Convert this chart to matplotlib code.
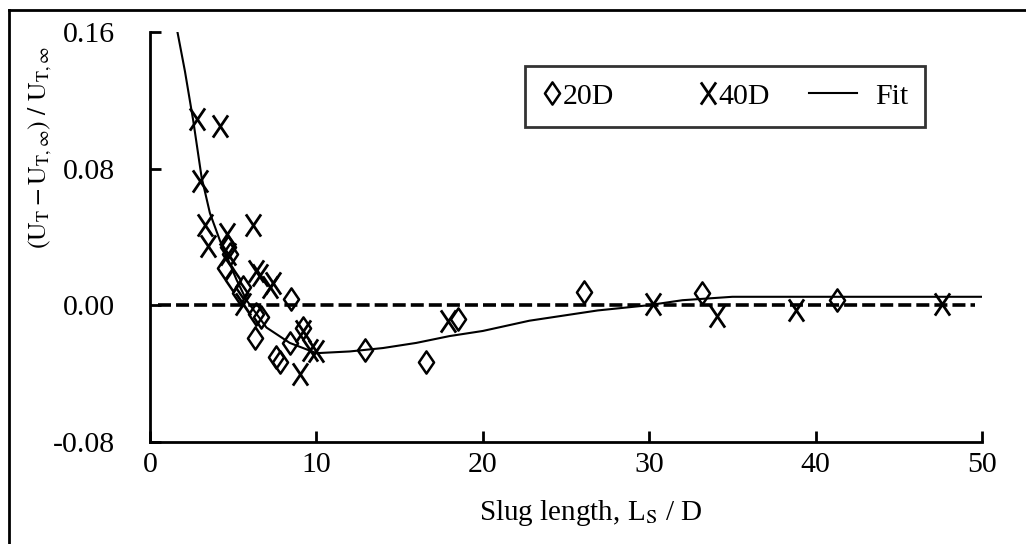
import matplotlib
matplotlib.use('Agg')
import matplotlib.pyplot as plt
from matplotlib.path import Path
from matplotlib.lines import Line2D
from matplotlib.legend_handler import HandlerLine2D

# ---- data ----
d20_x = [4.5, 4.7, 4.8, 5.0, 5.4, 5.6, 6.3, 6.4, 6.7, 7.6, 7.8, 8.4, 8.5, 9.2,
         12.9, 16.6, 18.5, 26.1, 33.2, 41.3]
d20_y = [0.022, 0.034, 0.030, 0.015, 0.007, 0.011, -0.019, -0.005, -0.007, -0.030,
         -0.033, -0.022, 0.004, -0.013, -0.026, -0.033, -0.008, 0.008, 0.007, 0.003]

d40_x = [2.8, 4.2, 3.0, 3.3, 3.5, 4.6, 4.7, 6.2, 6.4, 6.6, 7.2, 7.4, 5.6, 9.2, 9.6,
         9.0, 10.0, 17.9, 30.2, 34.1, 38.8, 47.6]
d40_y = [0.109, 0.105, 0.073, 0.047, 0.035, 0.042, 0.030, 0.047, 0.020, 0.018, 0.011,
         0.013, 0.001, -0.015, -0.026, -0.040, -0.027, -0.009, 0.001, -0.006, -0.003, 0.001]

fit_x = [1.65, 2.1, 2.6, 3.1, 3.6, 4.2, 5.2, 5.8, 7.0, 8.4, 10.0, 12.0, 14.0, 16.0,
         18.0, 20.0, 22.8, 26.9, 29.9, 32.0, 35.0, 40.0, 50.0]
fit_y = [0.160, 0.137, 0.108, 0.075, 0.054, 0.038, 0.015, 0.003, -0.013, -0.022,
         -0.028, -0.027, -0.025, -0.022, -0.018, -0.015, -0.009, -0.003, 0.000, 0.003,
         0.005, 0.005, 0.005]

ref_x = [0.5, 49.6]
ref_y = [0.0, 0.0]

x_ticks = [0, 10, 20, 30, 40, 50]
y_ticks = [-0.08, 0.00, 0.08, 0.16]
y_ticklabels = ['-0.08', '0.00', '0.08', '0.16']

plt.rcParams['font.family'] = ['Liberation Serif', 'DejaVu Serif']
plt.rcParams['mathtext.fontset'] = 'stix'

# markers shaped like the scanned ones
x_marker = Path([(-0.68, -1), (0.68, 1), (-0.68, 1), (0.68, -1)],
                [Path.MOVETO, Path.LINETO, Path.MOVETO, Path.LINETO])
dia_marker = Path([(0, 1), (0.68, 0), (0, -1), (-0.68, 0), (0, 1)],
                  [Path.MOVETO, Path.LINETO, Path.LINETO, Path.LINETO, Path.CLOSEPOLY])


class MarkerRight(HandlerLine2D):
    # marker sits at the right end of the short handle, close to the text
    def get_xdata(self, legend, xdescent, ydescent, width, height, fontsize):
        x = [-xdescent + width - 0.1 * fontsize]
        return x, x


class LongLine(HandlerLine2D):
    # fit line reaches back to the left of its handle box
    def get_xdata(self, legend, xdescent, ydescent, width, height, fontsize):
        x = [-xdescent - 1.51 * fontsize, -xdescent + 0.1 * fontsize]
        return x, x


fig = plt.figure(figsize=(10.26, 5.44), dpi=100)
ax = fig.add_axes([150/1026, 1-442/544, (982-150)/1026, (442-32)/544])

ax.plot(ref_x, ref_y, color='black', lw=2.6, linestyle=(0, (3.6, 1.4)))
fit_line, = ax.plot(fit_x, fit_y, color='black', lw=1.5)
h20, = ax.plot(d20_x, d20_y, linestyle='none', marker=dia_marker, ms=16, mfc='none',
               mec='black', mew=1.8)
h40, = ax.plot(d40_x, d40_y, linestyle='none', marker=x_marker, ms=16,
               mec='black', mew=2.0)

ax.set_xlim(0, 50)
ax.set_ylim(-0.08, 0.16)
ax.set_xticks(x_ticks)
ax.set_yticks(y_ticks)
ax.set_yticklabels(y_ticklabels)
for s in ['top', 'right']:
    ax.spines[s].set_visible(False)
for s in ['left', 'bottom']:
    ax.spines[s].set_linewidth(2.0)
ax.tick_params(direction='in', length=8, width=2, labelsize=21.5)
ax.tick_params(axis='y', pad=25)
ax.tick_params(axis='x', pad=7)

fig.text(591/1026, 1-513/544, 'Slug length, L$_\\mathrm{S}$ / D', fontsize=21,
         ha='center', va='center')
fig.text(40/1026, 1-148/544,
         '$(\\mathrm{U_T - U_{T,\\infty}})\\ /\\ \\mathrm{U_{T,\\infty}}$',
         fontsize=18.5, rotation=90, ha='center', va='center')

leg = ax.legend([h20, h40, fit_line], ['20D', '40D', 'Fit'], ncol=3,
                loc='upper left', bbox_to_anchor=(525/1026, 1-66/544),
                bbox_transform=fig.transFigure, fontsize=21.5, frameon=True,
                fancybox=False, edgecolor='black', handlelength=0.43,
                handletextpad=0.27, columnspacing=2.8, borderpad=0.57,
                borderaxespad=0,
                handler_map={h20: MarkerRight(), h40: MarkerRight(),
                             fit_line: LongLine()})
leg.get_frame().set_linewidth(2.0)

# outer frame of the scanned figure (top and left edges only)
fig.add_artist(Line2D([9/1026, 9/1026], [0, 1-10/544], color='black', lw=2,
                      transform=fig.transFigure))
fig.add_artist(Line2D([9/1026, 1], [1-10/544, 1-10/544], color='black', lw=2,
                      transform=fig.transFigure))

fig.savefig('out.png', dpi=100)
